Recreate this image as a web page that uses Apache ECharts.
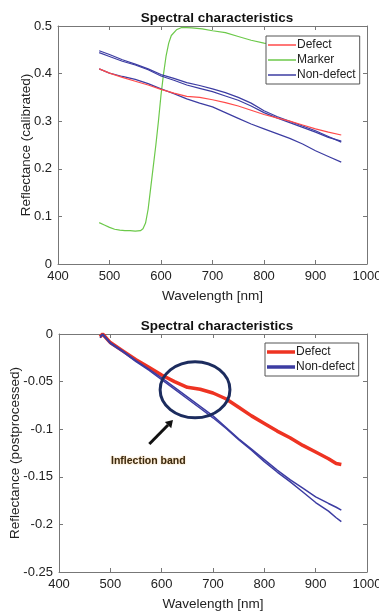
<!DOCTYPE html>
<html>
<head>
<meta charset="utf-8">
<script src="https://cdn.jsdelivr.net/npm/echarts@6/dist/echarts.min.js"></script>
<style>
  html, body { margin: 0; padding: 0; background: #fff; }
  #chart { width: 379px; height: 612px; }
</style>
</head>
<body>
<div id="chart"></div>
<script>
// top panel: calibrated reflectance
const wlTop = [480, 500, 525, 550, 575, 600, 625, 650, 675, 700, 725, 750, 775, 800, 825, 850, 875, 900, 925, 950];
const defectTop = [0.410, 0.401, 0.392, 0.384, 0.376, 0.367, 0.359, 0.352, 0.350, 0.345, 0.339, 0.332, 0.323, 0.314, 0.307, 0.300, 0.292, 0.284, 0.277, 0.271];
const nonDefectTopA = [0.448, 0.440, 0.429, 0.420, 0.410, 0.398, 0.390, 0.381, 0.375, 0.368, 0.360, 0.350, 0.338, 0.322, 0.310, 0.300, 0.290, 0.280, 0.268, 0.256];
const nonDefectTopB = [0.444, 0.436, 0.426, 0.418, 0.408, 0.395, 0.386, 0.376, 0.369, 0.362, 0.353, 0.344, 0.332, 0.318, 0.307, 0.297, 0.287, 0.277, 0.266, 0.258];
const nonDefectTopC = [0.410, 0.401, 0.394, 0.388, 0.379, 0.368, 0.358, 0.347, 0.338, 0.330, 0.318, 0.306, 0.294, 0.284, 0.274, 0.264, 0.252, 0.238, 0.226, 0.214];

const wlMarker = [480, 490, 500, 510, 520, 530, 540, 550, 560, 565, 570, 575, 580, 585, 590, 595, 600, 605, 610, 615, 620, 630, 640, 660, 680, 700, 725, 750, 775, 800, 850, 900, 950];
const marker = [0.087, 0.082, 0.077, 0.073, 0.071, 0.070, 0.070, 0.069, 0.070, 0.074, 0.086, 0.115, 0.160, 0.205, 0.250, 0.300, 0.355, 0.400, 0.438, 0.464, 0.480, 0.492, 0.497, 0.496, 0.494, 0.490, 0.486, 0.478, 0.470, 0.464, 0.455, 0.448, 0.440];

// bottom panel: postprocessed reflectance
const wlBot = [480, 485, 500, 525, 550, 575, 600, 625, 650, 675, 700, 725, 750, 775, 800, 825, 850, 875, 900, 925, 940, 950];
const defectBot = [-0.003, 0, -0.009, -0.018, -0.027, -0.035, -0.043, -0.050, -0.056, -0.058, -0.062, -0.068, -0.077, -0.086, -0.094, -0.102, -0.109, -0.117, -0.124, -0.131, -0.136, -0.137];
const nonDefectBotA = [-0.004, 0, -0.009, -0.018, -0.028, -0.037, -0.046, -0.056, -0.066, -0.076, -0.086, -0.098, -0.110, -0.121, -0.132, -0.143, -0.153, -0.162, -0.171, -0.178, -0.182, -0.185];
const nonDefectBotB = [-0.002, -0.001, -0.010, -0.019, -0.029, -0.038, -0.048, -0.058, -0.068, -0.078, -0.088, -0.099, -0.111, -0.122, -0.134, -0.145, -0.155, -0.166, -0.177, -0.186, -0.193, -0.197];

const FONT = '"Liberation Sans", Arial, sans-serif';
const AXIS_COLOR = '#777';
const RED = '#ff4a4a';
const RED_BOLD = '#ee3322';
const GREEN = '#6cc94a';
const BLUE = '#3c3ca2';

const pairs = (xs, ys) => xs.map((x, i) => [x, ys[i]]);

const chart = echarts.init(document.getElementById('chart'));

const axisName = { fontSize: 13.5, color: '#222', fontFamily: FONT };
const xAxisBase = (gridIndex, show) => ({
  type: 'value', gridIndex, min: 400, max: 1000, interval: 100,
  axisLine: { show: true, onZero: false, lineStyle: { color: AXIS_COLOR } },
  axisTick: { show: true, inside: true, length: 4, lineStyle: { color: AXIS_COLOR } },
  axisLabel: { show, color: '#222', fontSize: 13, fontFamily: FONT, margin: 6, formatter: (v) => String(v) },
  splitLine: { show: false }
});
const yAxisBase = (gridIndex, min, max, interval, show) => ({
  type: 'value', gridIndex, min, max, interval,
  axisLine: { show: true, onZero: false, lineStyle: { color: AXIS_COLOR } },
  axisTick: { show: true, inside: true, length: 4, lineStyle: { color: AXIS_COLOR } },
  axisLabel: {
    show, color: '#222', fontSize: 13, fontFamily: FONT, margin: 6,
    formatter: (v) => String(parseFloat(v.toFixed(2)))
  },
  splitLine: { show: false }
});

const line = (name, data, color, width, xi, yi, z) => ({
  name, type: 'line', data, xAxisIndex: xi, yAxisIndex: yi,
  showSymbol: false, symbol: 'none', animation: false, z: z || 2,
  lineStyle: { color, width }, itemStyle: { color }
});

const legendBox = {
  orient: 'vertical', padding: [3, 4, 3, 2], itemGap: 3,
  itemWidth: 28, icon: 'rect',
  backgroundColor: '#fff', borderColor: '#555', borderWidth: 1, borderRadius: 0,
  selectedMode: false,
  textStyle: { fontSize: 12, color: '#222', fontFamily: FONT, padding: [0, 0, 0, -4] }
};

chart.setOption({
  animation: false,
  backgroundColor: '#fff',
  textStyle: { fontFamily: FONT },
  title: [
    { text: 'Spectral characteristics', left: 212, top: 6, textAlign: 'center',
      textStyle: { fontSize: 13.5, fontWeight: 'bold', color: '#111', fontFamily: FONT } },
    { text: 'Spectral characteristics', left: 212, top: 314, textAlign: 'center',
      textStyle: { fontSize: 13.5, fontWeight: 'bold', color: '#111', fontFamily: FONT } }
  ],
  grid: [
    { left: 58, width: 309, top: 26, height: 238, outerBoundsMode: 'none' },
    { left: 59, width: 308, top: 334, height: 238, outerBoundsMode: 'none' }
  ],
  legend: [
    Object.assign({}, legendBox, {
      left: 266, top: 36, itemHeight: 1.5,
      data: [
        { name: 'Defect', itemStyle: { color: RED } },
        { name: 'Marker', itemStyle: { color: GREEN } },
        { name: 'Non-defect', itemStyle: { color: BLUE } }
      ]
    }),
    Object.assign({}, legendBox, {
      left: 265, top: 343, itemHeight: 3.5,
      data: [
        { name: 'Defect', itemStyle: { color: RED_BOLD } },
        { name: 'Non-defect', itemStyle: { color: BLUE } }
      ]
    })
  ],
  xAxis: [
    Object.assign(xAxisBase(0, true), { position: 'bottom', name: 'Wavelength [nm]', nameLocation: 'middle', nameGap: 25, nameTextStyle: axisName }),
    Object.assign(xAxisBase(0, false), { position: 'top' }),
    Object.assign(xAxisBase(1, true), { position: 'bottom', name: 'Wavelength [nm]', nameLocation: 'middle', nameGap: 25, nameTextStyle: axisName }),
    Object.assign(xAxisBase(1, false), { position: 'top' })
  ],
  yAxis: [
    Object.assign(yAxisBase(0, 0, 0.5, 0.1, true), { position: 'left', name: 'Reflectance (calibrated)', nameLocation: 'middle',
      nameGap: 25, nameMoveOverlap: false, nameTextStyle: axisName }),
    Object.assign(yAxisBase(0, 0, 0.5, 0.1, false), { position: 'right' }),
    Object.assign(yAxisBase(1, -0.25, 0, 0.05, true), { position: 'left', name: 'Reflectance (postprocessed)', nameLocation: 'middle',
      nameGap: 37, nameMoveOverlap: false, nameTextStyle: axisName }),
    Object.assign(yAxisBase(1, -0.25, 0, 0.05, false), { position: 'right' })
  ],
  series: [
    line('Marker', pairs(wlMarker, marker), GREEN, 1.2, 0, 0),
    line('Non-defect', pairs(wlTop, nonDefectTopA), BLUE, 1.2, 0, 0),
    line('Non-defect', pairs(wlTop, nonDefectTopB), BLUE, 1.2, 0, 0),
    line('Defect', pairs(wlTop, defectTop), RED, 1.2, 0, 0, 3),
    line('Non-defect', pairs(wlTop, nonDefectTopC), BLUE, 1.2, 0, 0),
    line('Non-defect', pairs(wlBot, nonDefectBotA), BLUE, 1.5, 2, 2),
    line('Non-defect', pairs(wlBot, nonDefectBotB), BLUE, 1.5, 2, 2),
    line('Defect', pairs(wlBot, defectBot), RED_BOLD, 3.5, 2, 2, 1)
  ]
});

// annotation on the lower panel, placed in data coordinates
const toPx = (p) => chart.convertToPixel({ xAxisIndex: 2, yAxisIndex: 2 }, p);
const c = toPx([665, -0.0586]);
const edge = toPx([665 + 68, -0.0586 - 0.0295]);
const tail = toPx([576, -0.1155]);
const head = toPx([622, -0.0904]);
const label = toPx([574, -0.1334]);
const ang = Math.atan2(head[1] - tail[1], head[0] - tail[0]);
const ah = 7, aw = 4.5;
const back = [head[0] - ah * Math.cos(ang), head[1] - ah * Math.sin(ang)];
const nx = -Math.sin(ang), ny = Math.cos(ang);

chart.setOption({
  graphic: [
    { type: 'ellipse', shape: { cx: c[0], cy: c[1], rx: edge[0] - c[0], ry: edge[1] - c[1] },
      style: { fill: null, stroke: '#1c2c5e', lineWidth: 3 }, z: 100 },
    { type: 'line', shape: { x1: tail[0], y1: tail[1], x2: back[0], y2: back[1] },
      style: { stroke: '#111', lineWidth: 3 }, z: 100 },
    { type: 'polygon', shape: { points: [head, [back[0] + nx * aw, back[1] + ny * aw], [back[0] - nx * aw, back[1] - ny * aw]] },
      style: { fill: '#111' }, z: 100 },
    { type: 'text', x: label[0], y: label[1], z: 100,
      style: { text: 'Inflection band', fill: '#3a2a12', font: 'bold 10.5px ' + FONT, align: 'center', verticalAlign: 'middle',
        textShadowColor: 'rgba(230,150,40,0.6)', textShadowBlur: 2 } }
  ]
});
</script>
</body>
</html>
